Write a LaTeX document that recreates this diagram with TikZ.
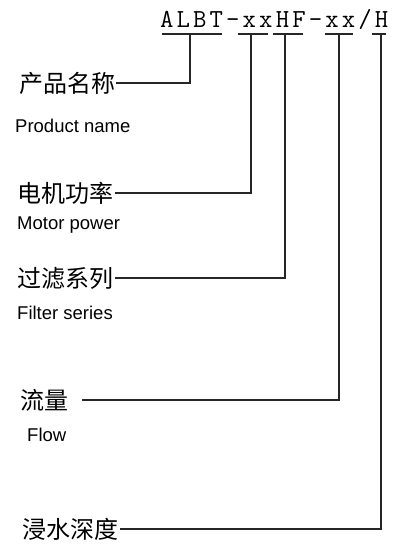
\documentclass[tikz,border=0pt]{standalone}
\usepackage{fontspec}
\newfontfamily\cjk{Noto Sans CJK SC}
\newfontfamily\latinsans{Liberation Sans}
\newfontfamily\codefont[LetterSpace=12]{Latin Modern Mono}
\begin{document}
\begin{tikzpicture}[x=1pt,y=-1pt,
  cn/.style={anchor=west,inner sep=0pt,font=\cjk\fontsize{24}{24}\selectfont},
  en/.style={anchor=west,inner sep=0pt,font=\latinsans\fontsize{18.5}{19}\selectfont},
  wire/.style={line width=1.1pt,black!85}]
\useasboundingbox[fill=white] (0,0) rectangle (399,545);
\node[anchor=base west,inner sep=0pt,font=\codefont\fontsize{26}{27}\selectfont] (code) at (160,28) {ALBT-xxHF-xx/H};
% underline segments
\coordinate (u1a) at (162,34); \coordinate (u1b) at (222,34);
\coordinate (u2a) at (238,34); \coordinate (u2b) at (268,34);
\coordinate (u3a) at (273,34); \coordinate (u3b) at (303,34);
\coordinate (u4a) at (325,34); \coordinate (u4b) at (353,34);
\coordinate (u5a) at (372,34); \coordinate (u5b) at (386,34);
\foreach \i in {1,...,5} {\draw[wire] (u\i a) -- (u\i b);}
\coordinate (t1) at (190,34);
\coordinate (t2) at (251,34);
\coordinate (t3) at (285,34);
\coordinate (t4) at (339,34);
\coordinate (t5) at (381,34);
% labels
\node[cn] (n1) at (19,83) {产品名称};
\node[en] (e1) at (15,126) {Product name};
\node[cn] (n2) at (17,193) {电机功率};
\node[en] (e2) at (17,225) {Motor power};
\node[cn] (n3) at (17,278) {过滤系列};
\node[en] (e3) at (17,313) {Filter series};
\node[cn] (n4) at (20,400) {流量};
\node[en] (e4) at (27,435) {Flow};
\node[cn] (n5) at (22,529) {浸水深度};
% connectors
\draw[wire] (t1) |- ([xshift=1pt]n1.east);
\draw[wire] (t2) |- ([xshift=2pt]n2.east);
\draw[wire] (t3) |- ([xshift=2pt]n3.east);
\draw[wire] (t4) |- ([xshift=14pt]n4.east);
\draw[wire] (t5) |- ([xshift=2pt]n5.east);
\end{tikzpicture}
\end{document}
